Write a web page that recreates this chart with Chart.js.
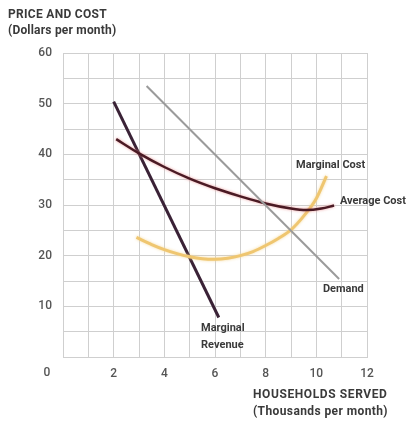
<!DOCTYPE html>
<html>
<head>
<meta charset="utf-8">
<script src="https://cdn.jsdelivr.net/npm/chart.js@4"></script>
<style>
  html, body { margin: 0; padding: 0; background: #fff; }
  #wrap { width: 418px; height: 424px; }
</style>
</head>
<body>
<div id="wrap"><canvas id="chart"></canvas></div>
<script>
// values (x = thousands of households, y = dollars per month)
const marginalRevenue = [[2.0, 50.4], [6.15, 7.8]];
const demand = [[3.3, 53.5], [10.9, 15.4]];
const averageCost = [[2.1, 43.0], [3.0, 40.2], [4.0, 37.5], [5.0, 35.2], [6.0, 33.3], [7.0, 31.7],
                     [8.0, 30.3], [9.0, 29.3], [9.6, 29.0], [10.2, 29.3], [10.7, 29.9]];
const marginalCost = [[2.9, 23.6], [3.5, 22.2], [4.0, 21.2], [4.5, 20.4], [5.0, 19.8], [5.5, 19.4],
                      [6.0, 19.3], [6.5, 19.5], [7.0, 20.0], [7.5, 20.8], [8.0, 22.0], [8.5, 23.4],
                      [9.0, 25.1], [9.5, 27.8], [10.0, 31.3], [10.4, 35.7]];

const xTicks = [2, 4, 6, 8, 10, 12];
const yTicks = [10, 20, 30, 40, 50, 60];

const curveLabels = [
    { text: ['Marginal Cost'], x: 9.2, y: 37.9 },
    { text: ['Average Cost'], x: 10.93, y: 30.8 },
    { text: ['Demand'], x: 10.26, y: 13.4 },
    { text: ['Marginal', 'Revenue'], x: 5.45, y: 5.7 }
];

const FONT = 'Roboto, "DejaVu Sans", sans-serif';

function toPoints(arr) {
    return arr.map(p => ({ x: p[0], y: p[1] }));
}

const glow = {
    id: 'glow',
    beforeDatasetDraw(chart, args) {
        const ds = chart.data.datasets[args.index];
        if (ds.glowColor) {
            chart.ctx.save();
            chart.ctx.shadowColor = ds.glowColor;
            chart.ctx.shadowBlur = 3;
        }
    },
    afterDatasetDraw(chart, args) {
        const ds = chart.data.datasets[args.index];
        if (ds.glowColor) chart.ctx.restore();
    }
};

const texts = {
    id: 'texts',
    afterDraw(chart) {
        const ctx = chart.ctx;
        const xs = chart.scales.x, ys = chart.scales.y;
        ctx.save();
        ctx.fillStyle = '#3a3a3a';
        ctx.textBaseline = 'middle';
        ctx.textAlign = 'left';

        ctx.font = 'bold 12px ' + FONT;
        ctx.letterSpacing = '0.3px';
        ctx.fillText('PRICE AND COST', 8, 15);
        ctx.letterSpacing = '0.2px';
        ctx.fillText('(Dollars per month)', 8, 31);
        ctx.letterSpacing = '0.6px';
        ctx.fillText('HOUSEHOLDS SERVED', 253, 395);
        ctx.letterSpacing = '0.4px';
        ctx.fillText('(Thousands per month)', 253, 412);
        ctx.letterSpacing = '0px';

        ctx.font = 'bold 11px ' + FONT;
        curveLabels.forEach(l => {
            const px = xs.getPixelForValue(l.x);
            const py = ys.getPixelForValue(l.y);
            l.text.forEach((t, i) => ctx.fillText(t, px, py + i * 17));
        });

        // shared origin label
        ctx.fillStyle = '#555';
        ctx.font = '500 12px ' + FONT;
        ctx.textAlign = 'center';
        ctx.fillText('0', 47, 373);
        ctx.restore();
    }
};

new Chart(document.getElementById('chart'), {
    type: 'scatter',
    data: {
        datasets: [
            {
                label: 'Demand',
                data: toPoints(demand),
                borderColor: '#9b9b9b',
                borderWidth: 2,
                showLine: true,
                pointRadius: 0
            },
            {
                label: 'Average Cost',
                data: toPoints(averageCost),
                borderColor: '#4a1a24',
                borderWidth: 2.5,
                showLine: true,
                pointRadius: 0,
                cubicInterpolationMode: 'monotone',
                glowColor: 'rgba(230,130,130,0.8)'
            },
            {
                label: 'Marginal Cost',
                data: toPoints(marginalCost),
                borderColor: '#efc670',
                borderWidth: 3,
                showLine: true,
                pointRadius: 0,
                cubicInterpolationMode: 'monotone',
                glowColor: 'rgba(245,215,150,0.9)'
            },
            {
                label: 'Marginal Revenue',
                data: toPoints(marginalRevenue),
                borderColor: '#3a2236',
                borderWidth: 3,
                showLine: true,
                pointRadius: 0
            }
        ]
    },
    options: {
        responsive: true,
        maintainAspectRatio: false,
        animation: false,
        events: [],
        layout: { padding: { top: 53, right: 51, left: 0, bottom: 0 } },
        plugins: {
            legend: { display: false },
            tooltip: { enabled: false }
        },
        scales: {
            x: {
                type: 'linear',
                min: 0,
                max: 12,
                afterFit(scale) { scale.height = 67; },
                grid: { color: '#cfcfcf', lineWidth: 1, drawTicks: false },
                border: { color: '#cfcfcf' },
                ticks: {
                    stepSize: 1,
                    padding: 10,
                    color: '#555',
                    font: { family: FONT, size: 12, weight: '500' },
                    maxRotation: 0,
                    autoSkip: false,
                    callback: v => xTicks.includes(v) ? String(v) : ''
                }
            },
            y: {
                min: 0,
                max: 60,
                afterFit(scale) { scale.width = 63; },
                grid: { color: '#cfcfcf', lineWidth: 1, drawTicks: false },
                border: { color: '#cfcfcf' },
                ticks: {
                    stepSize: 5,
                    padding: 11,
                    color: '#555',
                    font: { family: FONT, size: 12, weight: '500' },
                    autoSkip: false,
                    callback: v => yTicks.includes(v) ? String(v) : ''
                }
            }
        }
    },
    plugins: [glow, texts]
});
</script>
</body>
</html>
